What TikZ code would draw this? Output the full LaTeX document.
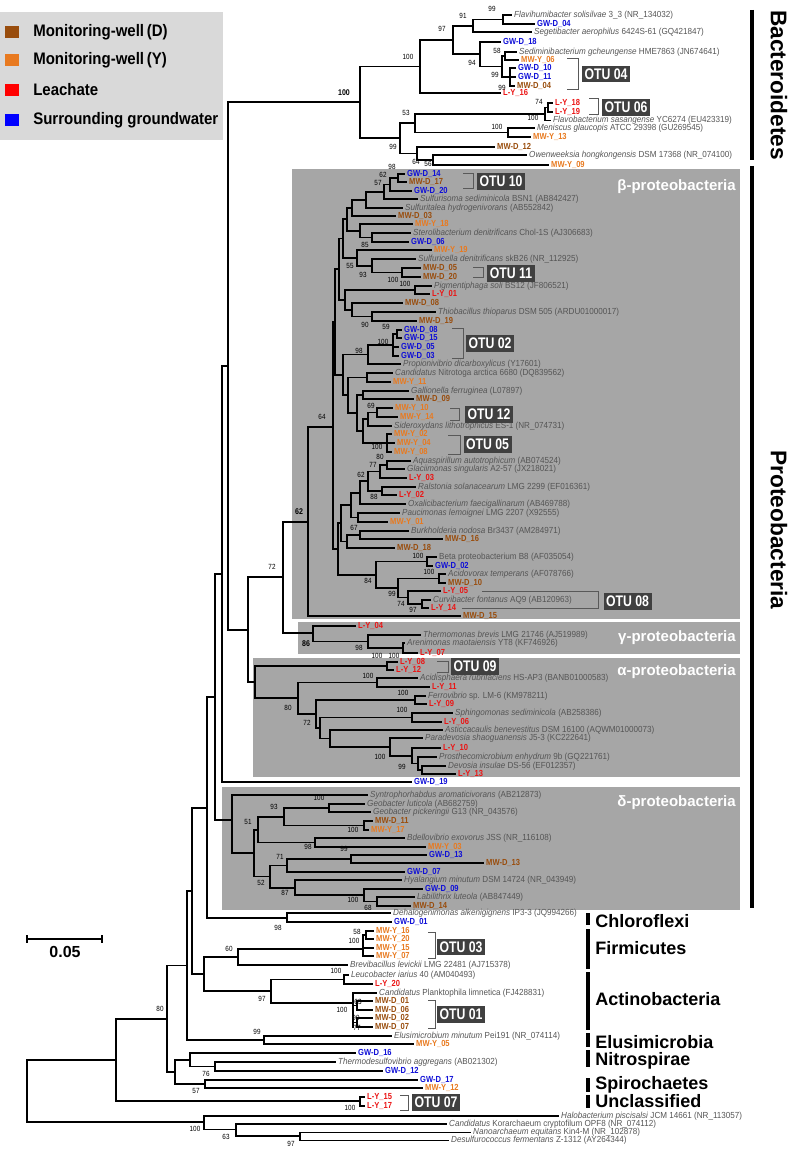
\documentclass[tikz,border=0pt]{standalone}
\usepackage{fontspec}
\setmainfont{Liberation Sans}
\newfontfamily\spf[FakeStretch=0.92]{Liberation Sans}
\newfontfamily\tgf[FakeStretch=0.86]{Liberation Sans}
\newfontfamily\bsf[FakeStretch=0.85]{Liberation Sans}
\newfontfamily\lgf[FakeStretch=0.9]{Liberation Sans}
\newfontfamily\otf[FakeStretch=0.8]{Liberation Sans}
\definecolor{cMD}{RGB}{153,77,13}
\definecolor{cMY}{RGB}{232,122,32}
\definecolor{cLY}{RGB}{235,20,20}
\definecolor{cGW}{RGB}{15,15,215}
\definecolor{cSP}{RGB}{85,85,85}
\definecolor{boxg}{RGB}{166,166,166}
\definecolor{legg}{RGB}{217,217,217}
\definecolor{otug}{RGB}{64,64,64}
\newcount\tipno
\newcount\bsno
\newcommand\Vb[3]{\draw[tr] (#1,#2) -- (#1,#3);}
\newcommand\Hb[3]{\draw[tr] (#1,#3) -- (#2,#3);}
\newcommand\Tp[5]{\draw[tr] (#1,#3) -- (#2,#3);\global\advance\tipno by 1\relax\node[#4] (t\the\tipno) at (#2,#3) {#5};}
\newcommand\Bs[3]{\global\advance\bsno by 1\relax\node[bs] (b\the\bsno) at (#1,#2) {#3};}
\newcommand\Bsb[3]{\global\advance\bsno by 1\relax\node[bsb] (b\the\bsno) at (#1,#2) {#3};}
\newcommand\Otu[6]{\draw[brk] (#1,#2) -- (#3,#2) -- (#3,#4) -- (#1,#4);\node[otu] (#6) at (#5) {OTU #6};}
\tikzset{
  tr/.style={line width=1.35pt, line cap=rect},
  lab/.style={anchor=west, inner sep=0pt, xshift=2.2pt, text height=5pt, text depth=1.4pt},
  sp/.style={lab, text=cSP, font=\spf\fontsize{6.6}{7}\selectfont},
  md/.style={lab, text=cMD, font=\tgf\bfseries\fontsize{6.6}{7}\selectfont},
  my/.style={lab, text=cMY, font=\tgf\bfseries\fontsize{6.6}{7}\selectfont},
  ly/.style={lab, text=cLY, font=\tgf\bfseries\fontsize{6.6}{7}\selectfont},
  gw/.style={lab, text=cGW, font=\tgf\bfseries\fontsize{6.6}{7}\selectfont},
  bs/.style={inner sep=0pt, font=\bsf\fontsize{5.6}{6}\selectfont},
  bsb/.style={inner sep=0pt, font=\bsf\bfseries\fontsize{6.2}{6.5}\selectfont},
  otu/.style={fill=otug, text=white, font=\otf\bfseries\fontsize{11.5}{12}\selectfont, inner sep=0pt, minimum width=36pt, minimum height=12.5pt},
  brk/.style={draw=black!65, line width=0.75pt},
  gl/.style={text=white, font=\bfseries\fontsize{11.25}{12}\selectfont, anchor=east, inner sep=0pt},
  phy/.style={font=\bfseries\fontsize{13.5}{14}\selectfont, anchor=west, inner sep=0pt},
  phyr/.style={font=\bfseries\fontsize{17}{18}\selectfont, rotate=-90, inner sep=0pt},
  leg/.style={font=\lgf\bfseries\fontsize{12.5}{13}\selectfont, anchor=west, inner sep=0pt},
  bar/.style={line width=3pt}
}
\begin{document}
\begin{tikzpicture}[x=0.75pt,y=-0.75pt]
\useasboundingbox (0,0) rectangle (800,1155);
% legend
\fill[legg] (0,12) rectangle (223,140);
\fill[cMD] (5,26) rectangle (19,38);
\fill[cMY] (5,54) rectangle (19,66);
\fill[red] (5,84) rectangle (19,96);
\fill[blue] (5,114) rectangle (19,126);
\node[leg] (lg1) at (33,32) {Monitoring-well\,(D)};
\node[leg] (lg2) at (33,60) {Monitoring-well\,(Y)};
\node[leg] (lg3) at (33,90) {Leachate};
\node[leg] (lg4) at (33,120) {Surrounding groundwater};
% grey boxes
\fill[boxg] (292,169) rectangle (740,619);
\fill[boxg] (298,622) rectangle (740,654);
\fill[boxg] (253,658) rectangle (740,777);
\fill[boxg] (222,787) rectangle (740,910);
\node[gl] (gbeta) at (736,187) {β-proteobacteria};
\node[gl] (ggam) at (736,638) {γ-proteobacteria};
\node[gl] (galp) at (736,672) {α-proteobacteria};
\node[gl] (gdel) at (736,803) {δ-proteobacteria};
% ---------------- Bacteroidetes
\Vb{228}{102}{630}
\Hb{228}{360}{102}
\Vb{360}{66.5}{138}
\Hb{360}{420}{66.5}
\Hb{360}{400}{138}
\Vb{420}{40}{93}
\Hb{420}{453}{40}
\Tp{420}{500}{93}{ly}{L-Y\_16}
\Vb{453}{25.75}{54.25}
\Hb{453}{473}{25.75}
\Hb{453}{480}{54.25}
\Vb{473}{19.5}{32}
\Hb{473}{503}{19.5}
\Tp{473}{531}{32}{sp}{\textit{Segetibacter aerophilus} 6424S-61 (GQ421847)}
\Vb{503}{15}{24}
\Tp{503}{511}{15}{sp}{\textit{Flavihumibacter solisilvae} 3\_3 (NR\_134032)}
\Tp{503}{534}{24}{gw}{GW-D\_04}
\Vb{480}{42}{66.5}
\Tp{480}{500}{42}{gw}{GW-D\_18}
\Hb{480}{502}{66.5}
\Vb{502}{56}{77}
\Hb{502}{505}{56}
\Vb{505}{52}{60}
\Tp{505}{516}{52}{sp}{\textit{Sediminibacterium gcheungense} HME7863 (JN674641)}
\Tp{505}{518}{60}{my}{MW-Y\_06}
\Hb{502}{510}{77}
\Vb{510}{68}{86}
\Tp{510}{515}{68}{gw}{GW-D\_10}
\Tp{510}{515}{77}{gw}{GW-D\_11}
\Tp{510}{514}{86}{md}{MW-D\_04}
\Vb{400}{123}{153.5}
\Hb{400}{415}{123}
\Hb{400}{417}{153.5}
\Vb{415}{114.25}{132.5}
\Hb{415}{545}{114.25}
\Hb{415}{508}{132.5}
\Vb{545}{107.5}{120.5}
\Hb{545}{548}{107.5}
\Vb{548}{103}{112}
\Tp{548}{552}{103}{ly}{L-Y\_18}
\Tp{548}{552}{112}{ly}{L-Y\_19}
\Tp{545}{550}{120.5}{sp}{\textit{Flavobacterium sasangense} YC6274 (EU423319)}
\Vb{508}{128}{137}
\Tp{508}{534}{128}{sp}{\textit{Meniscus glaucopis} ATCC 29398 (GU269545)}
\Tp{508}{530}{137}{my}{MW-Y\_13}
\Vb{417}{147}{160}
\Tp{417}{494}{147}{md}{MW-D\_12}
\Hb{417}{433}{160}
\Vb{433}{155}{165}
\Tp{433}{526}{155}{sp}{\textit{Owenweeksia hongkongensis} DSM 17368 (NR\_074100)}
\Tp{433}{548}{165}{my}{MW-Y\_09}
% ---------------- beta
\Vb{283}{522}{633}
\Hb{248}{283}{577}
\Vb{248}{577}{682}
\Hb{228}{248}{630}
\Hb{283}{308}{522}
\Vb{308}{427}{616}
\Hb{308}{333}{427}
\Tp{308}{460}{616}{md}{MW-D\_15}
\Vb{333}{322}{549}
\Hb{333}{335}{322}
\Hb{333}{338}{549}
\Vb{335}{269.25}{374.75}
\Hb{335}{339}{269.25}
\Hb{335}{343}{374.75}
\Vb{339}{238.6}{299.9}
\Hb{339}{343}{238.6}
\Hb{339}{345}{299.9}
\Vb{343}{219.4}{257.9}
\Hb{343}{347}{219.4}
\Hb{343}{357}{257.9}
\Vb{347}{208}{230.75}
\Hb{347}{352}{208}
\Hb{347}{360}{230.75}
\Vb{352}{199.9}{216}
\Hb{352}{366}{199.9}
\Tp{352}{395}{216}{md}{MW-D\_03}
\Vb{366}{191.75}{208}
\Hb{366}{384}{191.75}
\Tp{366}{402}{208}{sp}{\textit{Sulfuritalea hydrogenivorans} (AB552842)}
\Vb{384}{184.5}{199}
\Hb{384}{390}{184.5}
\Tp{384}{417}{199}{sp}{\textit{Sulfurisoma sediminicola} BSN1 (AB842427)}
\Vb{390}{178}{191}
\Hb{390}{398}{178}
\Tp{390}{411}{191}{gw}{GW-D\_20}
\Vb{398}{174}{182}
\Tp{398}{404}{174}{gw}{GW-D\_14}
\Tp{398}{406}{182}{md}{MW-D\_17}
\Vb{360}{224}{237.5}
\Tp{360}{412}{224}{my}{MW-Y\_18}
\Hb{360}{372}{237.5}
\Vb{372}{233}{242}
\Tp{372}{410}{233}{sp}{\textit{Sterolibacterium denitrificans} Chol-1S (AJ306683)}
\Tp{372}{408}{242}{gw}{GW-D\_06}
\Vb{357}{250}{265.75}
\Tp{357}{431}{250}{my}{MW-Y\_19}
\Hb{357}{372}{265.75}
\Vb{372}{259}{272.5}
\Tp{372}{415}{259}{sp}{\textit{Sulfuricella denitrificans} skB26 (NR\_112925)}
\Hb{372}{402}{272.5}
\Vb{402}{268}{277}
\Tp{402}{420}{268}{md}{MW-D\_05}
\Tp{402}{420}{277}{md}{MW-D\_20}
\Vb{345}{290}{309.75}
\Hb{345}{415}{290}
\Hb{345}{352}{309.75}
\Vb{415}{286}{294}
\Tp{415}{431}{286}{sp}{\textit{Pigmentiphaga soli} BS12 (JF806521)}
\Tp{415}{429}{294}{ly}{L-Y\_01}
\Vb{352}{303}{316.5}
\Tp{352}{402}{303}{md}{MW-D\_08}
\Hb{352}{372}{316.5}
\Vb{372}{312}{321}
\Tp{372}{435}{312}{sp}{\textit{Thiobacillus thioparus} DSM 505 (ARDU01000017)}
\Tp{372}{416}{321}{md}{MW-D\_19}
\Vb{343}{354.5}{395}
\Hb{343}{368}{354.5}
\Hb{343}{348}{395}
\Vb{368}{345}{364}
\Hb{368}{393}{345}
\Tp{368}{400}{364}{sp}{\textit{Propionivibrio dicarboxylicus} (Y17601)}
\Vb{393}{334}{356}
\Hb{393}{397}{334}
\Tp{393}{398}{347}{gw}{GW-D\_05}
\Tp{393}{398}{356}{gw}{GW-D\_03}
\Vb{397}{330}{338}
\Tp{397}{401}{330}{gw}{GW-D\_08}
\Tp{397}{401}{338}{gw}{GW-D\_15}
\Vb{348}{377.5}{413}
\Hb{348}{367}{377.5}
\Hb{348}{357}{413}
\Vb{367}{373}{382}
\Tp{367}{392}{373}{sp}{\textit{Candidatus} Nitrotoga arctica 6680 (DQ839562)}
\Tp{367}{390}{382}{my}{MW-Y\_11}
\Vb{357}{395}{431}
\Hb{357}{363}{395}
\Hb{357}{363}{431}
\Vb{363}{391}{399}
\Tp{363}{408}{391}{sp}{\textit{Gallionella ferruginea} (L07897)}
\Tp{363}{413}{399}{md}{MW-D\_09}
\Vb{363}{419.25}{443}
\Hb{363}{368}{419.25}
\Hb{363}{387}{443}
\Vb{368}{412.5}{426}
\Hb{368}{377}{412.5}
\Tp{368}{391}{426}{sp}{\textit{Sideroxydans lithotrophicus} ES-1 (NR\_074731)}
\Vb{377}{408}{417}
\Tp{377}{392}{408}{my}{MW-Y\_10}
\Tp{377}{397}{417}{my}{MW-Y\_14}
\Vb{387}{434}{452}
\Tp{387}{391}{434}{my}{MW-Y\_02}
\Tp{387}{394}{443}{my}{MW-Y\_04}
\Tp{387}{391}{452}{my}{MW-Y\_08}
\Vb{338}{523}{574.75}
\Hb{338}{341}{523}
\Hb{338}{376}{574.75}
\Vb{341}{505}{541.5}
\Hb{341}{351}{505}
\Hb{341}{347}{541.5}
\Vb{351}{492.6}{517.5}
\Hb{351}{360}{492.6}
\Hb{351}{358}{517.5}
\Vb{360}{481.25}{504}
\Hb{360}{368}{481.25}
\Tp{360}{405}{504}{sp}{\textit{Oxalicibacterium faecigallinarum} (AB469788)}
\Vb{368}{471.5}{491}
\Hb{368}{380}{471.5}
\Hb{368}{382}{491}
\Vb{380}{465}{478}
\Hb{380}{387}{465}
\Tp{380}{406}{478}{ly}{L-Y\_03}
\Vb{387}{461}{469}
\Tp{387}{410}{461}{sp}{\textit{Aquaspirillum autotrophicum} (AB074524)}
\Tp{387}{404}{469}{sp}{\textit{Glaciimonas singularis} A2-57 (JX218021)}
\Vb{382}{487}{495}
\Tp{382}{415}{487}{sp}{\textit{Ralstonia solanacearum} LMG 2299 (EF016361)}
\Tp{382}{396}{495}{ly}{L-Y\_02}
\Vb{358}{513}{522}
\Tp{358}{399}{513}{sp}{\textit{Paucimonas lemoignei} LMG 2207 (X92555)}
\Tp{358}{387}{522}{my}{MW-Y\_01}
\Vb{347}{535}{548}
\Hb{347}{360}{535}
\Tp{347}{394}{548}{md}{MW-D\_18}
\Vb{360}{531}{539}
\Tp{360}{408}{531}{sp}{\textit{Burkholderia nodosa} Br3437 (AM284971)}
\Tp{360}{442}{539}{md}{MW-D\_16}
\Vb{376}{561.5}{588}
\Hb{376}{427}{561.5}
\Hb{376}{398}{588}
\Vb{427}{557}{566}
\Tp{427}{436}{557}{sp}{Beta proteobacterium B8 (AF035054)}
\Tp{427}{432}{566}{gw}{GW-D\_02}
\Vb{398}{578.5}{597.5}
\Hb{398}{439}{578.5}
\Hb{398}{408}{597.5}
\Vb{439}{574}{583}
\Tp{439}{445}{574}{sp}{\textit{Acidovorax temperans} (AF078766)}
\Tp{439}{445}{583}{md}{MW-D\_10}
\Vb{408}{591}{604}
\Tp{408}{440}{591}{ly}{L-Y\_05}
\Hb{408}{422}{604}
\Vb{422}{600}{608}
\Tp{422}{430}{600}{sp}{\textit{Curvibacter fontanus} AQ9 (AB120963)}
\Tp{422}{428}{608}{ly}{L-Y\_14}
% ---------------- gamma
\Hb{283}{313}{633}
\Vb{313}{626}{641.5}
\Tp{313}{355}{626}{ly}{L-Y\_04}
\Hb{313}{368}{641.5}
\Vb{368}{635}{648}
\Tp{368}{420}{635}{sp}{\textit{Thermomonas brevis} LMG 21746 (AJ519989)}
\Hb{368}{403}{648}
\Vb{403}{643}{653}
\Tp{403}{404}{643}{sp}{\textit{Arenimonas maotaiensis} YT8 (KF746926)}
\Tp{403}{417}{653}{ly}{L-Y\_07}
% ---------------- alpha
\Hb{248}{255}{682}
\Vb{255}{666}{698}
\Hb{255}{387}{666}
\Vb{387}{662}{670}
\Tp{387}{397}{662}{ly}{L-Y\_08}
\Tp{387}{393}{670}{ly}{L-Y\_12}
\Hb{255}{298}{698}
\Vb{298}{682.5}{714}
\Hb{298}{377}{682.5}
\Vb{377}{678}{687}
\Tp{377}{417}{678}{sp}{\textit{Acidisphaera rubrifaciens} HS-AP3 (BANB01000583)}
\Tp{377}{429}{687}{ly}{L-Y\_11}
\Hb{298}{316}{714}
\Vb{316}{700}{728}
\Hb{316}{415}{700}
\Vb{415}{696}{704}
\Tp{415}{425}{696}{sp}{\textit{Ferrovibrio} sp. LM-6 (KM978211)}
\Tp{415}{426}{704}{ly}{L-Y\_09}
\Hb{316}{320}{728}
\Vb{320}{717.5}{738.5}
\Hb{320}{412}{717.5}
\Vb{412}{713}{722}
\Tp{412}{452}{713}{sp}{\textit{Sphingomonas sediminicola} (AB258386)}
\Tp{412}{441}{722}{ly}{L-Y\_06}
\Hb{320}{330}{738.5}
\Vb{330}{730}{746.9}
\Tp{330}{442}{730}{sp}{\textit{Asticcacaulis benevestitus} DSM 16100 (AQWM01000073)}
\Hb{330}{390}{746.9}
\Vb{390}{738}{755.75}
\Tp{390}{422}{738}{sp}{\textit{Paradevosia shaoguanensis} J5-3 (KC222641)}
\Hb{390}{412}{755.75}
\Vb{412}{748}{763.5}
\Tp{412}{440}{748}{ly}{L-Y\_10}
\Hb{412}{418}{763.5}
\Vb{418}{757}{770}
\Tp{418}{436}{757}{sp}{\textit{Prosthecomicrobium enhydrum} 9b (GQ221761)}
\Hb{418}{422}{770}
\Vb{422}{766}{774}
\Tp{422}{445}{766}{sp}{\textit{Devosia insulae} DS-56 (EF012357)}
\Tp{422}{455}{774}{ly}{L-Y\_13}
% ---------------- GW-D_19, delta
\Vb{222}{366}{782}
\Hb{222}{228}{366}
\Tp{222}{411}{782}{gw}{GW-D\_19}
\Vb{215}{574}{820}
\Hb{215}{222}{574}
\Hb{215}{232}{820}
\Vb{232}{795}{853}
\Tp{232}{367}{795}{sp}{\textit{Syntrophorhabdus aromaticivorans} (AB212873)}
\Hb{232}{254}{853}
\Vb{254}{830}{876.5}
\Hb{254}{258}{830}
\Vb{258}{817}{842.5}
\Hb{258}{284}{817}
\Vb{284}{808}{825.5}
\Hb{284}{329}{808}
\Vb{329}{804}{812}
\Tp{329}{364}{804}{sp}{\textit{Geobacter luticola} (AB682759)}
\Tp{329}{370}{812}{sp}{\textit{Geobacter pickeringii} G13 (NR\_043576)}
\Hb{284}{364}{825.5}
\Vb{364}{821}{830}
\Tp{364}{372}{821}{md}{MW-D\_11}
\Tp{364}{368}{830}{my}{MW-Y\_17}
\Hb{258}{315}{842.5}
\Vb{315}{838}{847}
\Tp{315}{404}{838}{sp}{\textit{Bdellovibrio exovorus} JSS (NR\_116108)}
\Tp{315}{425}{847}{my}{MW-Y\_03}
\Hb{254}{270}{876.5}
\Vb{270}{865.5}{887.6}
\Hb{270}{287}{865.5}
\Vb{287}{859}{872}
\Hb{287}{351}{859}
\Vb{351}{855}{863}
\Tp{351}{426}{855}{gw}{GW-D\_13}
\Tp{351}{483}{863}{md}{MW-D\_13}
\Tp{287}{404}{872}{gw}{GW-D\_07}
\Hb{270}{295}{887.6}
\Vb{295}{880}{895.25}
\Tp{295}{401}{880}{sp}{\textit{Hyalangium minutum} DSM 14724 (NR\_043949)}
\Hb{295}{364}{895.25}
\Vb{364}{889}{901.5}
\Tp{364}{422}{889}{gw}{GW-D\_09}
\Hb{364}{377}{901.5}
\Vb{377}{897}{906}
\Tp{377}{414}{897}{sp}{\textit{Labilithrix luteola} (AB847449)}
\Tp{377}{410}{906}{md}{MW-D\_14}
% ---------------- Chloroflexi
\Vb{207}{697}{918}
\Hb{207}{215}{697}
\Hb{207}{287}{918}
\Vb{287}{913}{922}
\Tp{287}{390}{913}{sp}{\textit{Dehalogenimonas alkenigignens} IP3-3 (JQ994266)}
\Tp{287}{391}{922}{gw}{GW-D\_01}
% ---------------- Firmicutes, Actinobacteria
\Vb{192}{808}{974}
\Hb{192}{207}{808}
\Hb{192}{204}{974}
\Vb{204}{957}{991}
\Hb{204}{238}{957}
\Vb{238}{949}{965}
\Hb{238}{363}{949}
\Tp{238}{347}{965}{sp}{\textit{Brevibacillus levickii} LMG 22481 (AJ715378)}
\Vb{363}{935}{956}
\Hb{363}{366}{935}
\Vb{366}{931}{939}
\Tp{366}{373}{931}{my}{MW-Y\_16}
\Tp{366}{373}{939}{my}{MW-Y\_20}
\Tp{363}{373}{948}{my}{MW-Y\_15}
\Tp{363}{373}{956}{my}{MW-Y\_07}
\Hb{204}{271}{991}
\Vb{271}{979.5}{1003}
\Hb{271}{344}{979.5}
\Vb{344}{975}{984}
\Tp{344}{348}{975}{sp}{\textit{Leucobacter iarius} 40 (AM040493)}
\Tp{344}{372}{984}{ly}{L-Y\_20}
\Hb{271}{353}{1003}
\Vb{353}{993}{1027}
\Tp{353}{376}{993}{sp}{\textit{Candidatus} Planktophila limnetica (FJ428831)}
\Hb{353}{357}{1005.5}
\Hb{353}{357}{1022.5}
\Vb{357}{1001}{1010}
\Vb{357}{1018}{1027}
\Tp{357}{372}{1001}{md}{MW-D\_01}
\Tp{357}{372}{1010}{md}{MW-D\_06}
\Tp{357}{372}{1018}{md}{MW-D\_02}
\Tp{357}{372}{1027}{md}{MW-D\_07}
% ---------------- Elusimicrobia
\Vb{187}{891}{1040}
\Hb{187}{192}{891}
\Hb{187}{264}{1040}
\Vb{264}{1036}{1044}
\Tp{264}{391}{1036}{sp}{\textit{Elusimicrobium minutum} Pei191 (NR\_074114)}
\Tp{264}{413}{1044}{my}{MW-Y\_05}
% ---------------- Nitrospirae, Spirochaetes
\Vb{167}{965.5}{1072}
\Hb{167}{187}{965.5}
\Hb{167}{175}{1072}
\Vb{175}{1059.75}{1084}
\Hb{175}{190}{1059.75}
\Hb{175}{205}{1084}
\Vb{190}{1053}{1066.5}
\Tp{190}{355}{1053}{gw}{GW-D\_16}
\Hb{190}{215}{1066.5}
\Vb{215}{1062}{1071}
\Tp{215}{335}{1062}{sp}{\textit{Thermodesulfovibrio aggregans} (AB021302)}
\Tp{215}{382}{1071}{gw}{GW-D\_12}
\Vb{205}{1080}{1088}
\Tp{205}{417}{1080}{gw}{GW-D\_17}
\Tp{205}{422}{1088}{my}{MW-Y\_12}
% ---------------- Unclassified
\Vb{116}{1018.75}{1101}
\Hb{116}{167}{1018.75}
\Hb{116}{360}{1101}
\Vb{360}{1097}{1106}
\Tp{360}{364}{1097}{ly}{L-Y\_15}
\Tp{360}{364}{1106}{ly}{L-Y\_17}
% ---------------- root, archaea
\Vb{27}{1060}{1122}
\Hb{27}{116}{1060}
\Hb{27}{204}{1122}
\Vb{204}{1116}{1129.5}
\Tp{204}{558}{1116}{sp}{\textit{Halobacterium piscisalsi} JCM 14661 (NR\_113057)}
\Hb{204}{236}{1129.5}
\Vb{236}{1124}{1136}
\Tp{236}{446}{1124}{sp}{\textit{Candidatus} Korarchaeum cryptofilum OPF8 (NR\_074112)}
\Hb{236}{300}{1136}
\Vb{300}{1132.5}{1140.5}
\Tp{300}{470}{1132.5}{sp}{\textit{Nanoarchaeum equitans} Kin4-M (NR\_102878)}
\Tp{300}{448}{1140.5}{sp}{\textit{Desulfurococcus fermentans} Z-1312 (AY264344)}
% ---------------- bootstrap values
\Bs{492}{9}{99}\Bs{463}{16}{91}\Bs{442}{29}{97}\Bs{497}{51}{58}\Bs{472}{63}{94}
\Bs{495}{75}{99}\Bs{502}{88}{99}\Bs{408}{57}{100}\Bsb{344}{93}{100}
\Bs{539}{102}{74}\Bs{533}{118}{100}\Bs{406}{113}{53}\Bs{497}{127}{100}
\Bs{393}{147}{99}\Bs{416}{162}{64}\Bs{428}{164}{56}
\Bs{392}{167}{98}\Bs{383}{175}{62}\Bs{378}{183}{57}\Bs{365}{245}{85}
\Bs{350}{266}{55}\Bs{363}{275}{93}\Bs{393}{280}{100}\Bs{405}{284}{100}
\Bs{365}{325}{90}\Bs{386}{327}{59}\Bs{383}{342}{100}\Bs{359}{351}{98}
\Bs{371}{406}{69}\Bs{377}{447}{100}\Bs{380}{457}{80}\Bs{373}{465}{77}
\Bs{361}{475}{62}\Bs{374}{497}{88}\Bs{354}{528}{67}\Bs{418}{556}{100}
\Bs{429}{572}{100}\Bs{368}{581}{84}\Bs{392}{594}{99}\Bs{401}{604}{74}
\Bs{413}{610}{97}\Bs{322}{417}{64}\Bsb{299}{512}{62}\Bs{272}{567}{72}
\Bsb{306}{644}{86}\Bs{359}{648}{98}\Bs{394}{656}{100}
\Bs{377}{656}{100}\Bs{368}{676}{100}\Bs{403}{693}{100}\Bs{402}{710}{100}
\Bs{307}{723}{72}\Bs{288}{708}{80}\Bs{380}{757}{100}\Bs{402}{767}{99}
\Bs{319}{798}{100}\Bs{274}{807}{93}\Bs{353}{830}{100}\Bs{248}{822}{51}
\Bs{308}{847}{98}\Bs{344}{849}{99}\Bs{280}{857}{71}\Bs{261}{883}{52}
\Bs{285}{893}{87}\Bs{353}{900}{100}\Bs{368}{908}{68}
\Bs{278}{928}{98}\Bs{357}{932}{58}\Bs{354}{941}{100}\Bs{229}{949}{60}
\Bs{336}{971}{100}\Bs{262}{999}{97}\Bs{358}{1002}{63}\Bs{342}{1010}{100}
\Bs{356}{1018}{99}\Bs{357}{1028}{77}\Bs{257}{1032}{99}\Bs{206}{1074}{76}
\Bs{196}{1091}{57}\Bs{160}{1009}{80}\Bs{350}{1108}{100}
\Bs{195}{1129}{100}\Bs{226}{1137}{63}\Bs{291}{1144}{97}
% ---------------- OTU brackets and boxes
\Otu{567}{59}{578}{90}{606,74}{04}
\Otu{589}{99}{598}{115}{626,107.5}{06}
\Otu{463}{174}{473}{189}{501,181.5}{10}
\Otu{473}{268}{483}{278}{511,273.5}{11}
\Otu{452}{328}{463}{358}{490,343.5}{02}
\Otu{450}{408}{459}{420}{489,414.5}{12}
\Otu{448}{435}{460}{454}{487.5,444.5}{05}
\Otu{428}{932}{435}{958}{461,947}{03}
\Otu{428}{1000}{435}{1028}{461,1014.5}{01}
\Otu{400}{1095}{408}{1110}{436,1102.5}{07}
\Otu{437}{661}{448}{672}{475,666.5}{09}
\draw[brk] (482,591) -- (598,591) -- (598,608) -- (462,608);
\node[otu] (08) at (627.5,601.5) {OTU 08};
% ---------------- scale bar
\draw[line width=1.3pt] (27,939) -- (102,939);
\draw[line width=1.3pt] (27,935) -- (27,943);
\draw[line width=1.3pt] (102,935) -- (102,943);
\node[font=\bfseries\fontsize{12}{12}\selectfont, inner sep=0pt] (scl) at (65,952) {0.05};
% ---------------- phylum bars and labels
\draw[bar] (752,10) -- (752,160);
\node[phyr] (pbac) at (779,85) {Bacteroidetes};
\draw[bar] (752,166) -- (752,908);
\node[phyr] (ppro) at (779,530) {Proteobacteria};
\draw[bar] (588,913) -- (588,925);
\node[phy] (pchl) at (595,921) {Chloroflexi};
\draw[bar] (588,929) -- (588,969);
\node[phy] (pfir) at (595,948) {Firmicutes};
\draw[bar] (588,972) -- (588,1030);
\node[phy] (pact) at (595,999) {Actinobacteria};
\draw[bar] (588,1033) -- (588,1047);
\node[phy] (pelu) at (595,1042) {Elusimicrobia};
\draw[bar] (588,1050) -- (588,1067);
\node[phy] (pnit) at (595,1061) {Nitrospirae};
\draw[bar] (588,1078) -- (588,1092);
\node[phy] (pspi) at (595,1085) {Spirochaetes};
\draw[bar] (588,1095) -- (588,1108);
\node[phy] (punc) at (595,1101.5) {Unclassified};
\end{tikzpicture}
\end{document}
